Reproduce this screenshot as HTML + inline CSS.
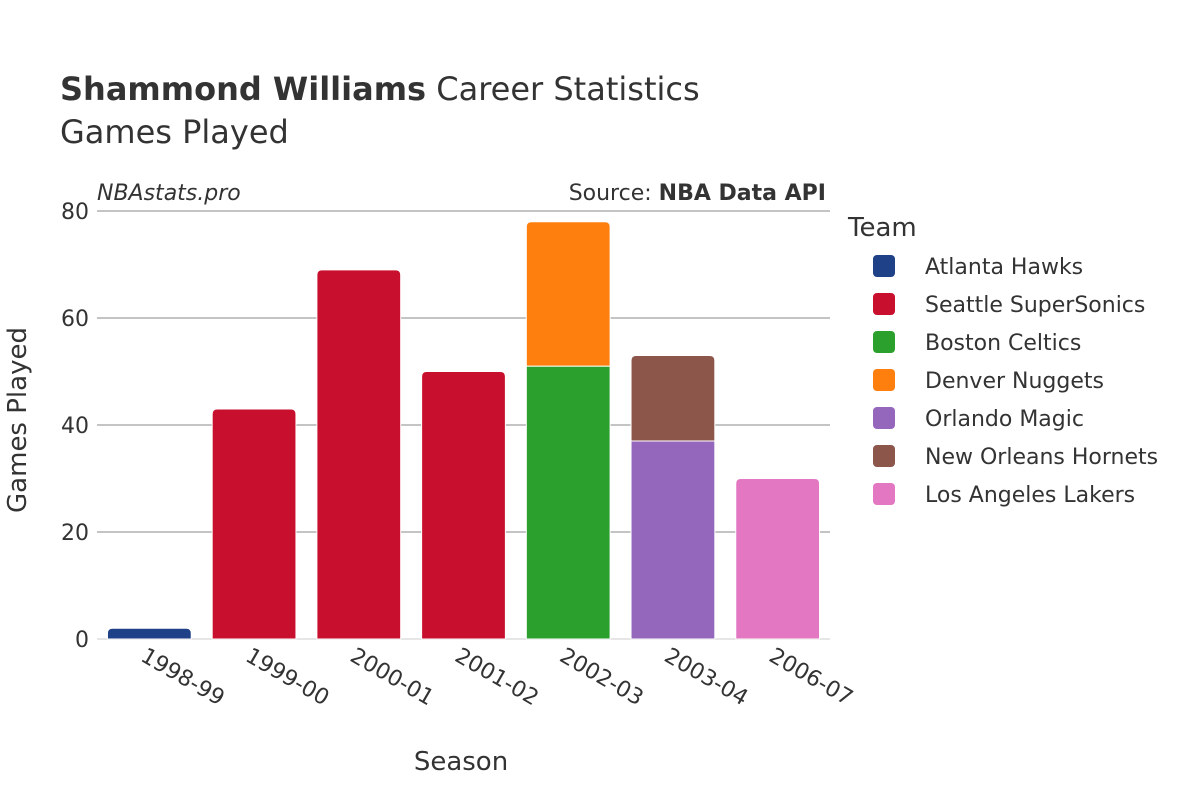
<!DOCTYPE html>
<html><head><meta charset="utf-8"><style>
body{margin:0;background:#fff;font-family:"Liberation Sans","DejaVu Sans",sans-serif}
</style></head><body>
<svg width="1200" height="800" xmlns="http://www.w3.org/2000/svg" font-family="'DejaVu Sans','Liberation Sans',sans-serif">
<text x="60" y="100" font-size="32" fill="#333"><tspan font-weight="bold">Shammond Williams</tspan> Career Statistics</text>
<text x="60" y="143" font-size="32" fill="#333">Games Played</text>
<text x="97" y="200" font-size="22" font-style="italic" fill="#333">NBAstats.pro</text>
<text x="826" y="200" font-size="22" text-anchor="end" fill="#333">Source: <tspan font-weight="bold">NBA Data API</tspan></text>
<g id="grid"></g>
<g id="bars"></g>
<g id="xt"></g>
<text transform="translate(26,420) rotate(-90)" font-size="26" text-anchor="middle" fill="#333">Games Played</text>
<text x="461" y="770" font-size="26" text-anchor="middle" fill="#333">Season</text>
<g id="legend"></g>
</svg>
<script>
const seasons=["1998-99","1999-00","2000-01","2001-02","2002-03","2003-04","2006-07"];
const teams=["Atlanta Hawks","Seattle SuperSonics","Boston Celtics","Denver Nuggets","Orlando Magic","New Orleans Hornets","Los Angeles Lakers"];
const colors=["#1f4187","#c8102e","#2ca02c","#ff7f0e","#9467bd","#8c564b","#e377c2"];
// games per season per team index (stack order bottom -> top)
const hawks=[2,0,0,0,0,0,0];
const sonics=[0,43,69,50,0,0,0];
const celtics=[0,0,0,0,51,0,0];
const nuggets=[0,0,0,0,27,0,0];
const magic=[0,0,0,0,0,37,0];
const hornets=[0,0,0,0,0,16,0];
const lakers=[0,0,0,0,0,0,30];
const yTicks=[0,20,40,60,80];
const series=[hawks,sonics,celtics,nuggets,magic,hornets,lakers];
const NS="http://www.w3.org/2000/svg";
const x0=97,x1=830,y0=639,y80=211;
const y=v=>y0-(y0-y80)*v/80;
const band=(x1-x0)/seasons.length;
const xc=i=>x0+band*(i+0.5);
const bw=band*0.8;
function mk(t,a,p){const e=document.createElementNS(NS,t);for(const k in a)e.setAttribute(k,a[k]);p.appendChild(e);return e;}
const g=document.getElementById('grid');
yTicks.forEach(v=>{
 const l=mk('line',{x1:x0,x2:x1,y1:y(v),y2:y(v),stroke:v===0?'#e6e6e6':'#888','stroke-width':v===0?2:1},g);
 
 
 const t=mk('text',{x:x0-8,y:y(v)+8,'font-size':22,'text-anchor':'end',fill:'#333'},g);
 t.textContent=v;
 
 
});
const b=document.getElementById('bars');
seasons.forEach((s,i)=>{
 let base=0;const segs=[];
 series.forEach((arr,k)=>{if(arr[i]>0){segs.push([k,base,arr[i]]);base+=arr[i];}});
 segs.forEach(([k,st,v],j)=>{
  const top=j===segs.length-1;
  const xa=xc(i)-bw/2,ya=y(st+v),h=y(st)-y(st+v),r=top?Math.min(5,h/2):0;
  const d=`M${xa},${ya+h} L${xa},${ya+r} Q${xa},${ya} ${xa+r},${ya} L${xa+bw-r},${ya} Q${xa+bw},${ya} ${xa+bw},${ya+r} L${xa+bw},${ya+h} Z`;
  const p=mk('path',{d:d,fill:colors[k],stroke:'#fff','stroke-width':1},b);
  
  
 });
 const t=mk('text',{transform:`translate(${xc(i)-10},${660}) rotate(30)`,'font-size':22,fill:'#333'},document.getElementById('xt'));
 t.textContent=s;
 
 
});
const lg=document.getElementById('legend');
const lt=mk('text',{x:848,y:236,'font-size':26,fill:'#333'},lg);
lt.textContent='Team';


teams.forEach((t,k)=>{
 const yy=266+k*38;
 const r=mk('rect',{x:873,y:yy-11,width:22,height:22,rx:4,fill:colors[k]},lg);
 
 
 const tx=mk('text',{x:925,y:yy+8,'font-size':22,fill:'#333'},lg);
 tx.textContent=t;
 
 
});
</script>
</body></html>
